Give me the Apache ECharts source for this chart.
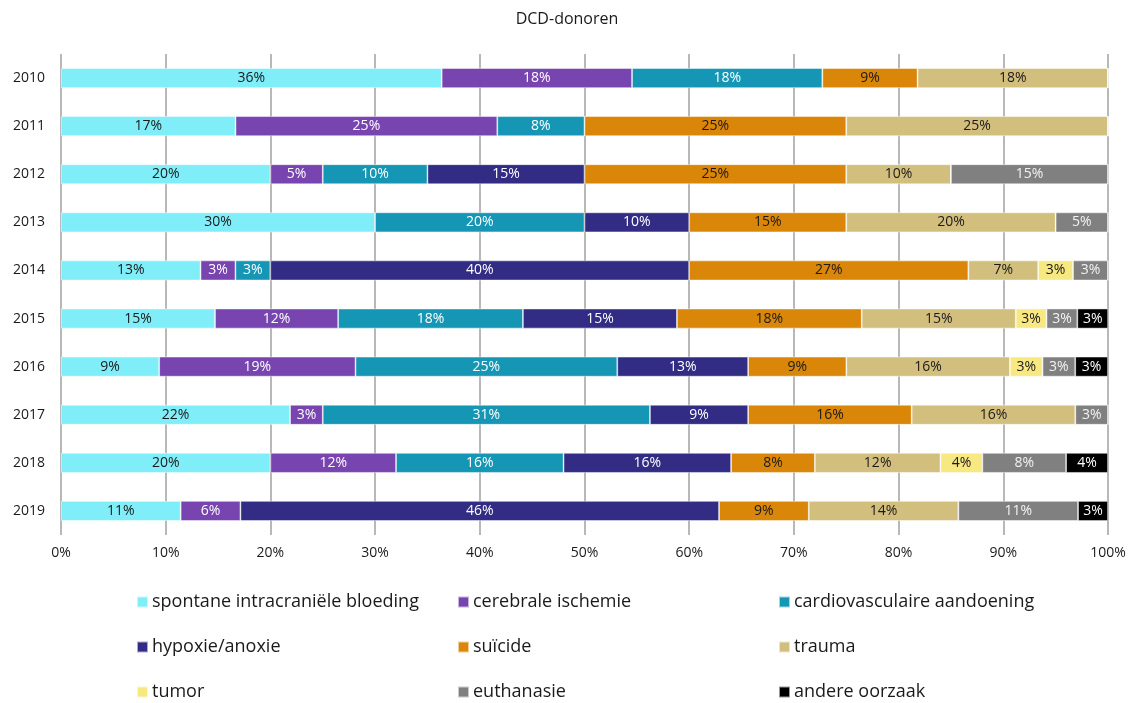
<!DOCTYPE html>
<html>
<head>
<meta charset="utf-8">
<script src="https://cdn.jsdelivr.net/npm/echarts@6/dist/echarts.min.js"></script>
<style>
  html, body { margin: 0; padding: 0; background: #fff; }
  #chart { width: 1134px; height: 703px; }
</style>
</head>
<body>
<div id="chart"></div>
<script>
// jaren (van boven naar beneden)
const years = ['2010', '2011', '2012', '2013', '2014', '2015', '2016', '2017', '2018', '2019'];

// aandeel per oorzaak, in % per jaar
const spontaneBloeding  = [36.36, 16.67, 20, 30, 13.33, 14.71, 9.38, 21.88, 20, 11.43];
const cerebraleIschemie = [18.18, 25, 5, 0, 3.33, 11.76, 18.75, 3.12, 12, 5.71];
const cardiovasculair   = [18.18, 8.33, 10, 20, 3.33, 17.65, 25, 31.25, 16, 0];
const hypoxieAnoxie     = [0, 0, 15, 10, 40, 14.71, 12.5, 9.38, 16, 45.71];
const suicide           = [9.09, 25, 25, 15, 26.67, 17.65, 9.38, 15.62, 8, 8.57];
const trauma            = [18.18, 25, 10, 20, 6.67, 14.71, 15.62, 15.63, 12, 14.29];
const tumor             = [0, 0, 0, 0, 3.33, 2.94, 3.12, 0, 4, 0];
const euthanasie        = [0, 0, 15, 5, 3.33, 2.94, 3.12, 3.12, 8, 11.43];
const andereOorzaak     = [0, 0, 0, 0, 0, 2.94, 3.13, 0, 4, 2.86];

const xTicks = [0, 10, 20, 30, 40, 50, 60, 70, 80, 90, 100];

const font = '"Open Sans", "Noto Sans", sans-serif';

const seriesDefs = [
    { name: 'spontane intracraniële bloeding', data: spontaneBloeding, color: '#80eef8', text: '#1a1a1a' },
    { name: 'cerebrale ischemie', data: cerebraleIschemie, color: '#7744b0', text: '#ffffff' },
    { name: 'cardiovasculaire aandoening', data: cardiovasculair, color: '#1496b4', text: '#ffffff' },
    { name: 'hypoxie/anoxie', data: hypoxieAnoxie, color: '#322c85', text: '#ffffff' },
    { name: 'suïcide', data: suicide, color: '#da8608', text: '#1a1a1a' },
    { name: 'trauma', data: trauma, color: '#d3bf7d', text: '#1a1a1a' },
    { name: 'tumor', data: tumor, color: '#f7e882', text: '#1a1a1a' },
    { name: 'euthanasie', data: euthanasie, color: '#808080', text: '#f2f2f2' },
    { name: 'andere oorzaak', data: andereOorzaak, color: '#000000', text: '#ffffff' }
];

const series = seriesDefs.map(function (s) {
    return {
        name: s.name,
        type: 'bar',
        stack: 'totaal',
        barWidth: 20,
        data: s.data,
        itemStyle: {
            color: s.color,
            borderColor: 'rgba(255,255,255,0.6)',
            borderWidth: 0.8
        },
        label: {
            show: true,
            position: 'inside',
            color: s.text,
            fontFamily: font,
            fontSize: 14,
            formatter: function (p) {
                return p.value > 0 ? Math.round(p.value) + '%' : '';
            }
        },
        emphasis: { disabled: true }
    };
});

// legenda: 3 kolommen x 3 rijen, elk item los geplaatst
const legendLeft = [136, 457, 778];
const legendTop = [593, 638, 683];
const legends = seriesDefs.map(function (s, i) {
    return {
        left: legendLeft[i % 3],
        top: legendTop[Math.floor(i / 3)],
        itemWidth: 11,
        itemHeight: 11,
        itemGap: 0,
        padding: 0,
        icon: 'rect',
        selectedMode: false,
        textStyle: { fontFamily: font, fontSize: 18, color: '#1a1a1a', padding: [0, 0, 0, -1] },
        data: [s.name]
    };
});

const option = {
    animation: false,
    title: {
        text: 'DCD-donoren',
        left: 'center',
        top: 6,
        textStyle: { fontFamily: font, fontSize: 16, fontWeight: 'normal', color: '#1a1a1a' }
    },
    legend: legends,
    grid: {
        left: 61,
        right: 26,
        top: 54,
        bottom: 168,
        containLabel: false
    },
    xAxis: {
        type: 'value',
        min: xTicks[0],
        max: xTicks[xTicks.length - 1],
        interval: 10,
        axisLine: { show: false },
        axisTick: { show: false },
        splitLine: { show: true, lineStyle: { color: '#a0a0a0', width: 1.5 } },
        axisLabel: {
            fontFamily: font,
            fontSize: 14,
            color: '#1a1a1a',
            margin: 11,
            formatter: '{value}%'
        }
    },
    yAxis: {
        type: 'category',
        inverse: true,
        data: years,
        axisLine: { show: false },
        axisTick: { show: false },
        axisLabel: {
            fontFamily: font,
            fontSize: 14,
            color: '#1a1a1a',
            margin: 16
        }
    },
    series: series
};

const chart = echarts.init(document.getElementById('chart'));
chart.setOption(option);
</script>
</body>
</html>
